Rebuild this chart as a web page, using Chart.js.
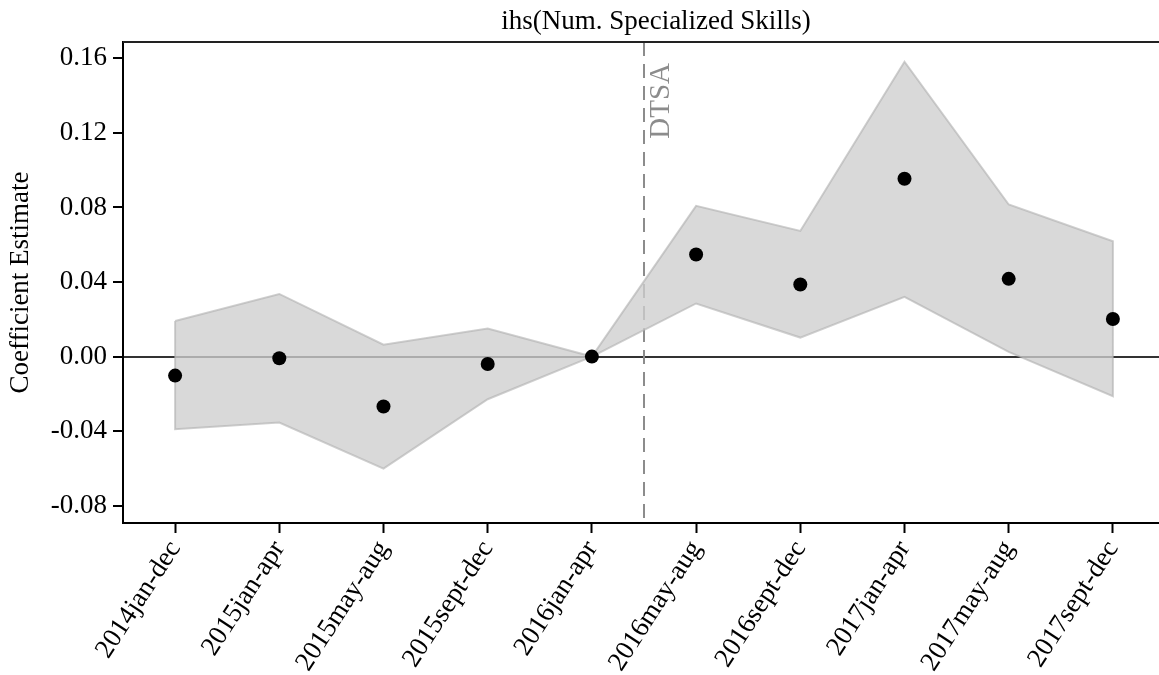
<!DOCTYPE html>
<html>
<head>
<meta charset="utf-8">
<script src="https://cdn.jsdelivr.net/npm/chart.js@4.4.1/dist/chart.umd.min.js"></script>
<style>
  html, body { margin: 0; padding: 0; background: #fff; overflow: hidden; }
  #wrap { width: 1175px; height: 675px; }
</style>
</head>
<body>
<div id="wrap"><canvas id="chart"></canvas></div>
<script>
const periods = ['2014jan-dec', '2015jan-apr', '2015may-aug', '2015sept-dec', '2016jan-apr',
  '2016may-aug', '2016sept-dec', '2017jan-apr', '2017may-aug', '2017sept-dec']
const coefficients = [-0.0102, -0.0009, -0.0268, -0.0040, 0, 0.0548, 0.0387, 0.0954, 0.0417, 0.0202]
const upperBound = [0.0191, 0.0336, 0.0064, 0.0150, 0, 0.0809, 0.0674, 0.1582, 0.0816, 0.0619]
const lowerBound = [-0.0390, -0.0354, -0.0601, -0.0229, 0, 0.0285, 0.0102, 0.0320, 0.0025, -0.0213]
const yTicks = [-0.08, -0.04, 0, 0.04, 0.08, 0.12, 0.16]
const eventPosition = 4.5
const eventLabel = 'DTSA'
const chartTitle = 'ihs(Num. Specialized Skills)'
const yTitle = 'Coefficient Estimate'

const FONT = 'Liberation Serif'

// confidence band as one closed polygon: upper edge left->right, lower edge back
const bandPoints = periods.map((p, i) => ({ x: p, y: upperBound[i] }))
  .concat(periods.map((p, i) => ({ x: p, y: lowerBound[i] })).reverse())
bandPoints.push(bandPoints[0])

const extras = {
  id: 'extras',
  beforeDatasetsDraw(chart) {
    const { ctx, chartArea, scales } = chart
    const x = scales.x.getPixelForValue(eventPosition)
    ctx.save()
    ctx.strokeStyle = '#8c8c8c'
    ctx.lineWidth = 2
    ctx.setLineDash([14, 8])
    ctx.beginPath()
    ctx.moveTo(x, chartArea.top)
    ctx.lineTo(x, chartArea.bottom)
    ctx.stroke()
    ctx.restore()
  },
  afterDraw(chart) {
    const { ctx, chartArea, scales } = chart
    ctx.save()
    // top frame line
    ctx.strokeStyle = '#222'
    ctx.lineWidth = 2
    ctx.beginPath()
    ctx.moveTo(chartArea.left, chartArea.top)
    ctx.lineTo(chartArea.right + 20, chartArea.top)
    ctx.stroke()

    // title
    ctx.fillStyle = '#000'
    ctx.font = '27px "' + FONT + '"'
    ctx.textAlign = 'center'
    ctx.textBaseline = 'alphabetic'
    ctx.fillText(chartTitle, 656, 29)

    // event label, rotated
    const x = scales.x.getPixelForValue(eventPosition)
    ctx.translate(x + 25, chartArea.top + 21)
    ctx.rotate(-Math.PI / 2)
    ctx.font = '29px "' + FONT + '"'
    ctx.fillStyle = '#8c8c8c'
    ctx.textAlign = 'right'
    ctx.fillText(eventLabel, 0, 0)
    ctx.restore()
  }
}

new Chart(document.getElementById('chart'), {
  type: 'line',
  data: {
    labels: periods,
    datasets: [
      {
        label: 'coef',
        data: coefficients,
        showLine: false,
        pointRadius: 7,
        pointBackgroundColor: '#000',
        pointBorderWidth: 0
      },
      {
        label: 'ci',
        data: bandPoints,
        borderColor: 'rgba(175,175,175,0.6)',
        borderWidth: 2,
        backgroundColor: 'rgba(206,206,206,0.78)',
        fill: 'shape',
        pointRadius: 0,
        tension: 0
      }
    ]
  },
  options: {
    responsive: true,
    maintainAspectRatio: false,
    animation: false,
    layout: { padding: { top: 42, right: 10, left: 0, bottom: 0 } },
    plugins: {
      legend: { display: false },
      tooltip: { enabled: false }
    },
    scales: {
      x: {
        type: 'category',
        offset: true,
        grid: { drawOnChartArea: false, drawTicks: true, tickLength: 10, tickColor: '#000', tickWidth: 2 },
        border: { display: true, color: '#000', width: 2 },
        ticks: {
          autoSkip: false,
          minRotation: 57,
          maxRotation: 57,
          padding: 2,
          color: '#000',
          font: { family: FONT, size: 27 }
        },
        afterFit(scale) { scale.height = 152 }
      },
      y: {
        min: -0.0893,
        max: 0.1688,
        afterBuildTicks(scale) { scale.ticks = yTicks.map(v => ({ value: v })) },
        grid: {
          drawTicks: true,
          tickLength: 10,
          tickColor: '#000',
          tickWidth: 2,
          lineWidth: 2,
          color: ctx => (ctx.tick && ctx.tick.value === 0 ? '#333' : 'transparent')
        },
        border: { display: true, color: '#000', width: 2 },
        ticks: {
          padding: 6,
          color: '#000',
          font: { family: FONT, size: 27 },
          callback: v => v.toFixed(2)
        },
        title: {
          display: true,
          text: yTitle,
          color: '#000',
          padding: { top: 5, bottom: 0 },
          font: { family: FONT, size: 27 }
        },
        afterFit(scale) { scale.width = 123 }
      }
    }
  },
  plugins: [extras]
})
</script>
</body>
</html>
